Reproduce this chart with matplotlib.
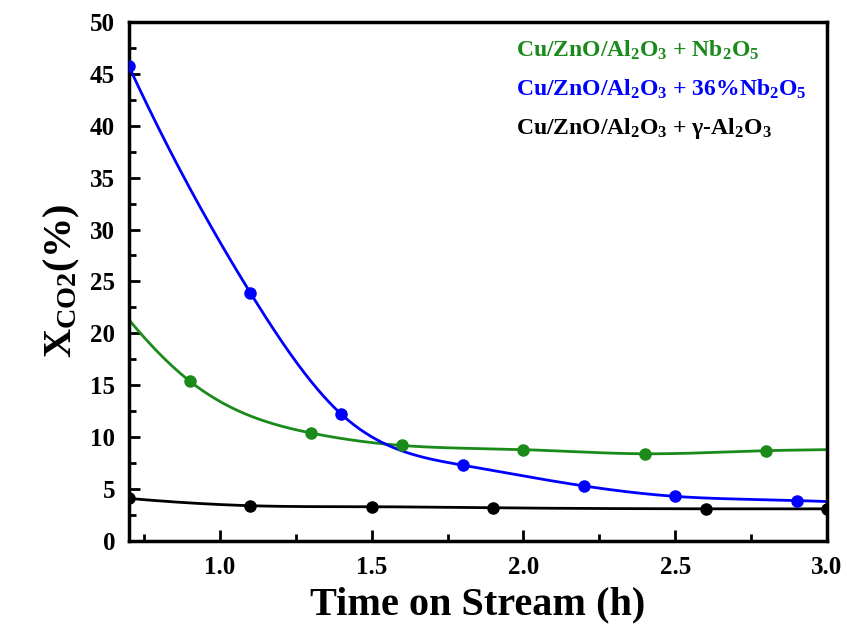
import numpy as np
import matplotlib
matplotlib.use("Agg")
import matplotlib.pyplot as plt
from matplotlib.ticker import MultipleLocator

plt.rcParams['font.family'] = ['Liberation Serif', 'DejaVu Serif']
plt.rcParams['font.weight'] = 'bold'
plt.rcParams['mathtext.default'] = 'regular'

# Data
green_x = [0.7, 0.9, 1.3, 1.6, 2.0, 2.4, 2.8, 3.0]
green_y = [21.3, 15.4, 10.4, 9.2, 8.8, 8.4, 8.7, 8.8]
blue_x = [0.7, 1.1, 1.4, 1.8, 2.2, 2.5, 2.9, 3.0]
blue_y = [45.7, 23.9, 12.2, 7.3, 5.3, 4.3, 3.9, 3.8]
black_x = [0.7, 1.1, 1.5, 1.9, 2.6, 3.0]
black_y = [4.1, 3.4, 3.3, 3.2, 3.1, 3.1]
labels = [r'Cu/ZnO/Al$_2$O$_3$ + Nb$_2$O$_5$',
          r'Cu/ZnO/Al$_2$O$_3$ + 36%Nb$_2$O$_5$',
          r'Cu/ZnO/Al$_2$O$_3$ + γ-Al$_2$O$_3$']


def end_slope(x0, x1, x2, y0, y1, y2):
    f01 = (y1 - y0) / (x1 - x0)
    f12 = (y2 - y1) / (x2 - x1)
    f012 = (f12 - f01) / (x2 - x0)
    return f01 + f012 * (x0 - x1)


def spline(x, y, xn):
    # clamped cubic spline, end slopes from local quadratics
    x = np.asarray(x, float); y = np.asarray(y, float)
    n = len(x); h = np.diff(x)
    s0 = end_slope(x[0], x[1], x[2], y[0], y[1], y[2])
    sn = end_slope(x[-1], x[-2], x[-3], y[-1], y[-2], y[-3])
    A = np.zeros((n, n)); b = np.zeros(n)
    A[0, 0] = 2 * h[0]; A[0, 1] = h[0]
    b[0] = 3 * ((y[1] - y[0]) / h[0] - s0)
    A[-1, -2] = h[-1]; A[-1, -1] = 2 * h[-1]
    b[-1] = 3 * (sn - (y[-1] - y[-2]) / h[-1])
    for i in range(1, n - 1):
        A[i, i - 1] = h[i - 1]; A[i, i] = 2 * (h[i - 1] + h[i]); A[i, i + 1] = h[i]
        b[i] = 3 * ((y[i + 1] - y[i]) / h[i] - (y[i] - y[i - 1]) / h[i - 1])
    c = np.linalg.solve(A, b)
    bb = (y[1:] - y[:-1]) / h - h * (2 * c[:-1] + c[1:]) / 3
    d = (c[1:] - c[:-1]) / (3 * h)
    idx = np.clip(np.searchsorted(x, xn) - 1, 0, n - 2)
    t = xn - x[idx]
    return y[idx] + bb[idx] * t + c[idx] * t**2 + d[idx] * t**3


fig = plt.figure(figsize=(8.47, 6.24), dpi=100)
ax = fig.add_axes([0.1523, 0.133, 0.824, 0.832])

series = [(green_x, green_y, '#1a8a1a', list(range(1, 7))),
          (blue_x, blue_y, '#0000ff', list(range(0, 7))),
          (black_x, black_y, 'black', list(range(0, 6)))]
for xs, ys, c, me in series:
    xn = np.linspace(xs[0], xs[-1], 400)
    ax.plot(xn, spline(xs, ys, xn), color=c, lw=2, zorder=2)
    ax.plot(np.array(xs)[me], np.array(ys)[me], 'o', color=c, ms=8, zorder=3, clip_on=True)

ax.set_xlim(0.7, 3.0)
ax.set_ylim(0, 50)
ax.xaxis.set_major_locator(MultipleLocator(0.5))
ax.xaxis.set_minor_locator(MultipleLocator(0.25))
ax.yaxis.set_major_locator(MultipleLocator(5))
ax.yaxis.set_minor_locator(MultipleLocator(2.5))
ax.tick_params(which='both', direction='in', width=2, labelsize=18)
ax.tick_params(which='major', length=8)
ax.tick_params(axis='x', which='major', pad=11)
ax.tick_params(axis='y', which='major', pad=10)
ax.tick_params(which='minor', length=5)
for s in ax.spines.values():
    s.set_linewidth(2.5)
for lab in ax.get_xticklabels() + ax.get_yticklabels():
    lab.set_fontweight('bold')

ax.set_xlabel('Time on Stream (h)', fontsize=29, fontweight='bold', labelpad=5)
ax.set_ylabel(r'X$_{\mathregular{CO2}}$(%)', fontsize=29, fontweight='bold', labelpad=6)

cols = ['#1a8a1a', '#0000ff', 'black']
for i, (lab, c) in enumerate(zip(labels, cols)):
    ax.text(0.555, 0.945 - i * 0.075, lab, color=c, fontsize=17, fontweight='bold',
            transform=ax.transAxes, va='center', ha='left')

fig.savefig('out.png', dpi=100)
